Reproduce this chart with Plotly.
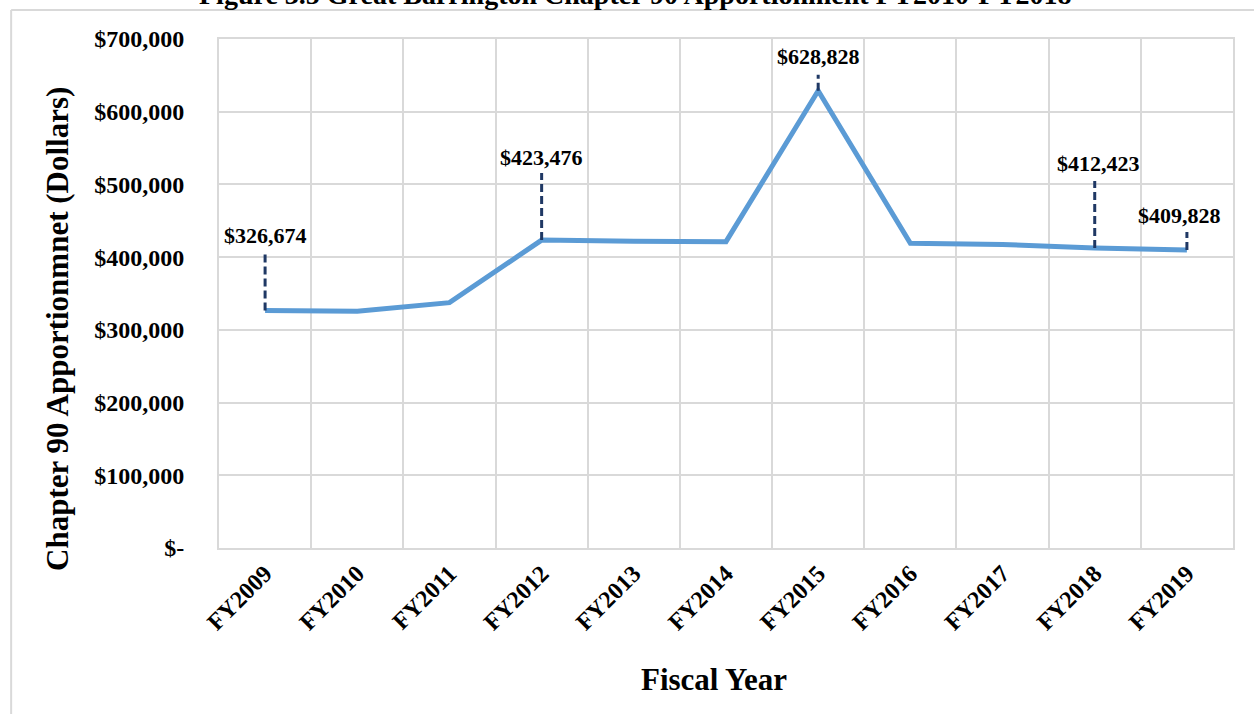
import plotly.graph_objects as go

# data
years = ["FY2009", "FY2010", "FY2011", "FY2012", "FY2013", "FY2014",
         "FY2015", "FY2016", "FY2017", "FY2018", "FY2019"]
apportionment = [326674, 325500, 337400, 423476, 422000, 421300,
                 628828, 419000, 417500, 412423, 409828]
labeled_years = ["FY2009", "FY2012", "FY2015", "FY2018", "FY2019"]
label_texts = ["$326,674", "$423,476", "$628,828", "$412,423", "$409,828"]
y_ticks = [0, 100000, 200000, 300000, 400000, 500000, 600000, 700000]
y_tick_text = ["$-", "$100,000", "$200,000", "$300,000",
               "$400,000", "$500,000", "$600,000", "$700,000"]

# callout styling (pixel offsets above each point)
label_shift = [75, 83, 34, 85, 35]
label_xshift = [0, 0, 0, 4, -7]
leader_len = [58, 67, 16, 67, 18]

FONT = "Liberation Serif"
GRID = "#D9D9D9"

fig = go.Figure()
fig.add_trace(go.Scatter(
    x=years, y=apportionment, mode="lines",
    line=dict(color="#5B9BD5", width=5),
    showlegend=False, hoverinfo="x+y"
))

value_of = dict(zip(years, apportionment))
for yr, txt, sh, xs, ll in zip(labeled_years, label_texts, label_shift, label_xshift, leader_len):
    v = value_of[yr]
    fig.add_shape(type="line", xref="x", yref="y", ysizemode="pixel",
                  yanchor=v, x0=yr, x1=yr, y0=0, y1=ll,
                  line=dict(color="#1F3864", width=3, dash="8px,4px"))
    fig.add_annotation(x=yr, y=v, text=txt, showarrow=False,
                       yshift=sh, xshift=xs, yanchor="middle",
                       font=dict(family=FONT, size=22, color="black", weight="bold"))

# axis titles and cut-off figure title
fig.add_annotation(xref="paper", yref="paper", x=-0.16, y=0.43,
                   xanchor="center", yanchor="middle",
                   text="Chapter 90 Apportionmnet (Dollars)", textangle=-90,
                   showarrow=False,
                   font=dict(family=FONT, size=31, color="black", weight="bold"))
fig.add_annotation(xref="paper", yref="paper", x=0.488, y=-0.259,
                   xanchor="center", yanchor="middle",
                   text="Fiscal Year", showarrow=False,
                   font=dict(family=FONT, size=31, color="black", weight="bold"))
fig.add_annotation(xref="paper", yref="paper", x=0.411, y=1.087,
                   xanchor="center", yanchor="middle",
                   text="Figure 3.5 Great Barrington Chapter 90 Apportionment FY2010-FY2018",
                   showarrow=False,
                   font=dict(family=FONT, size=28, color="black", weight="bold"))

# outer chart frame (top and left edges visible)
fig.add_shape(type="line", xref="paper", yref="paper",
              x0=-0.205, x1=1.03, y0=1.057, y1=1.057,
              line=dict(color=GRID, width=2))
fig.add_shape(type="line", xref="paper", yref="paper",
              x0=-0.205, x1=-0.205, y0=1.057, y1=-0.33,
              line=dict(color=GRID, width=2))

fig.update_layout(
    width=1254, height=714,
    margin=dict(l=219, r=21, t=39, b=166),
    plot_bgcolor="white", paper_bgcolor="white",
    xaxis=dict(
        type="category", tickson="boundaries", showgrid=True,
        gridcolor=GRID, gridwidth=2, showline=True, mirror=True,
        linecolor=GRID, linewidth=2, ticks="", tickangle=-45,
        tickfont=dict(family=FONT, size=24, color="black", weight="bold"),
        range=[-0.5, len(years) - 0.5], automargin=False,
    ),
    yaxis=dict(
        range=[0, 700000], tickvals=y_ticks, ticktext=y_tick_text,
        showgrid=True, gridcolor=GRID, gridwidth=2, zeroline=False,
        showline=True, mirror=True, linecolor=GRID, linewidth=2,
        ticks="", ticklabelstandoff=28, automargin=False,
        tickfont=dict(family=FONT, size=24, color="black", weight="bold"),
    ),
)

fig.write_html("out.html", config={"displayModeBar": False},
               post_script="document.body.style.margin='0px';")
